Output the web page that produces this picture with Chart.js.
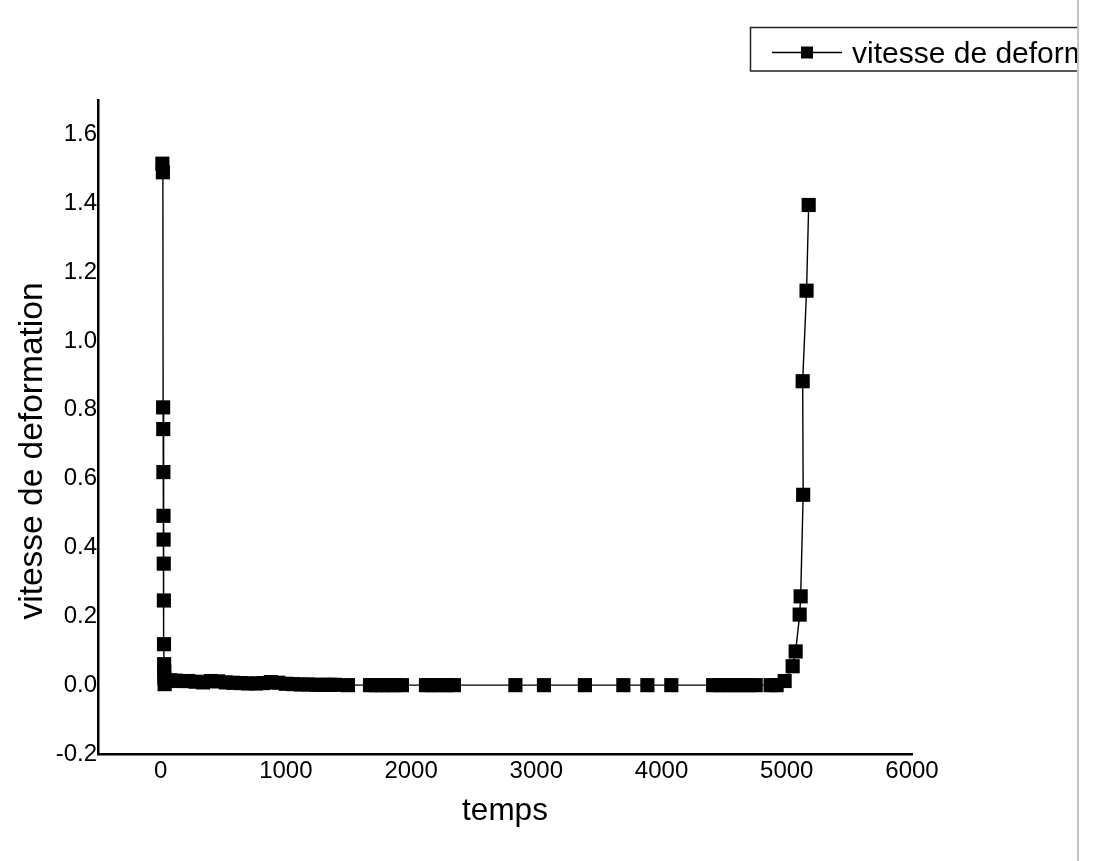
<!DOCTYPE html>
<html>
<head>
<meta charset="utf-8">
<title>vitesse de deformation</title>
<script src="https://cdn.jsdelivr.net/npm/chart.js@4.4.1/dist/chart.umd.min.js"></script>
<style>
  html, body { margin: 0; padding: 0; background: #fff; }
  #wrap {
    position: absolute; left: 0; top: 0;
    width: 1077px; height: 861px;
    overflow: hidden;
    border-right: 2px solid #c4c4c4;
    background: #fff;
  }
  canvas { display: block; }
</style>
</head>
<body>
<div id="wrap"><canvas id="chart" width="1250" height="861"></canvas></div>
<script>
// Creep test: strain rate against time
const seriesLabel = 'vitesse de deformation';
const xTitle = 'temps';
const yTitle = 'vitesse de deformation';

const timeValues = [
  14, 18, 20, 21, 22, 23, 24, 25, 26, 27, 28, 29, 30, 32,
  50, 80, 120, 170, 220, 280, 340, 400, 460, 520, 580, 640, 700, 760,
  820, 880, 940, 1000, 1060, 1120, 1180, 1240, 1300, 1350, 1390,
  1496, 1672, 1720, 1770, 1820, 1870, 1927,
  2119, 2170, 2225, 2285, 2342,
  2833, 3061, 3388, 3695, 3887, 4078,
  4412, 4470, 4528, 4584, 4640, 4696, 4752, 4871, 4919,
  4983, 5047, 5071, 5103, 5111, 5131, 5127, 5158, 5175
];
const rateValues = [
  1.515, 1.49, 0.807, 0.744, 0.619, 0.492, 0.423, 0.353, 0.246, 0.119, 0.061, 0.040, 0.020, 0.003,
  0.012, 0.014, 0.013, 0.012, 0.012, 0.010, 0.008, 0.012, 0.011, 0.008, 0.007, 0.006, 0.005, 0.005,
  0.006, 0.009, 0.007, 0.004, 0.003, 0.002, 0.002, 0.001, 0.001, 0.001, 0.001,
  0, 0, 0, 0, 0, 0, 0,
  0, 0, 0, 0, 0,
  0, 0, 0, 0, 0, 0,
  0, 0, 0, 0, 0, 0, 0, 0, 0,
  0.012, 0.055, 0.098, 0.205, 0.258, 0.553, 0.883, 1.146, 1.395
];

const xTickValues = [0, 1000, 2000, 3000, 4000, 5000, 6000];
const yTickValues = [-0.2, 0.0, 0.2, 0.4, 0.6, 0.8, 1.0, 1.2, 1.4, 1.6];

const FONT = '"Liberation Sans", Arial, sans-serif';

// Framed legend entry (line + square marker + label), cut by the frame edge
const framedLegend = {
  id: 'framedLegend',
  afterDraw(chart) {
    const ctx = chart.ctx;
    const ds = chart.data.datasets[0];
    ctx.save();
    ctx.strokeStyle = '#222';
    ctx.lineWidth = 1.5;
    ctx.strokeRect(750.5, 27.5, 460, 43.5);
    ctx.beginPath();
    ctx.moveTo(772, 52.5);
    ctx.lineTo(842, 52.5);
    ctx.strokeStyle = ds.borderColor;
    ctx.lineWidth = 1.3;
    ctx.stroke();
    ctx.fillStyle = ds.pointBackgroundColor;
    ctx.fillRect(801, 46.5, 12, 12);
    ctx.fillStyle = '#000';
    ctx.font = '30px ' + FONT;
    ctx.textBaseline = 'alphabetic';
    ctx.textAlign = 'left';
    ctx.fillText(ds.label, 852, 63);
    ctx.restore();
  }
};

// Rotated title for the vertical axis
const sideTitle = {
  id: 'sideTitle',
  afterDraw(chart) {
    const ctx = chart.ctx;
    ctx.save();
    ctx.translate(42, 451);
    ctx.rotate(-Math.PI / 2);
    ctx.font = '33.5px ' + FONT;
    ctx.fillStyle = '#000';
    ctx.textAlign = 'center';
    ctx.textBaseline = 'alphabetic';
    ctx.fillText(yTitle, 0, 0);
    ctx.restore();
  }
};

const points = timeValues.map((t, i) => ({ x: t, y: rateValues[i] }));

new Chart(document.getElementById('chart'), {
  type: 'scatter',
  data: {
    datasets: [{
      label: seriesLabel,
      data: points,
      showLine: true,
      borderColor: '#000',
      borderWidth: 1.4,
      pointStyle: 'rect',
      pointRadius: 10,
      pointBackgroundColor: '#000',
      pointBorderColor: '#000',
      pointBorderWidth: 0
    }]
  },
  options: {
    responsive: false,
    animation: false,
    layout: { padding: { left: 0, top: 100, right: 1250 - 912, bottom: 0 } },
    plugins: { legend: { display: false }, tooltip: { enabled: false } },
    scales: {
      x: {
        type: 'linear',
        position: 'bottom',
        min: -500,
        max: 6000,
        border: { color: '#000', width: 2.5 },
        grid: { display: false, drawTicks: false },
        ticks: {
          padding: 3,
          color: '#000',
          font: { family: FONT, size: 24 },
          autoSkip: false,
          maxRotation: 0,
          callback: v => String(v)
        },
        afterBuildTicks: s => { s.ticks = xTickValues.map(v => ({ value: v })); },
        afterFit: s => { s.height = 107; },
        title: {
          display: true,
          text: xTitle,
          color: '#000',
          font: { family: FONT, size: 31.5 },
          padding: { top: 0, bottom: 31 }
        }
      },
      y: {
        type: 'linear',
        position: 'left',
        min: -0.2,
        max: 1.7,
        border: { color: '#000', width: 2.5 },
        grid: { display: false, drawTicks: false },
        ticks: {
          padding: 1,
          color: '#000',
          font: { family: FONT, size: 24 },
          callback: v => Number(v).toFixed(1)
        },
        afterBuildTicks: s => { s.ticks = yTickValues.map(v => ({ value: v })); },
        afterFit: s => { s.width = 98; }
      }
    }
  },
  plugins: [framedLegend, sideTitle]
});
</script>
</body>
</html>
